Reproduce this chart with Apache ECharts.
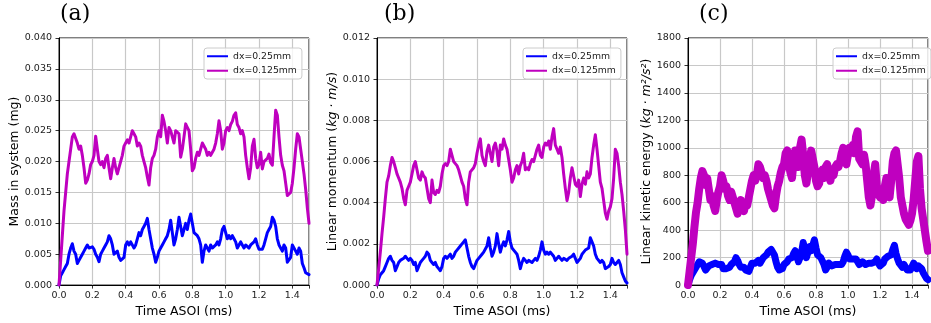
<!DOCTYPE html>
<html>
<head>
<meta charset="utf-8">
<script src="https://cdn.jsdelivr.net/npm/echarts@6/dist/echarts.min.js"></script>
<style>
  html, body { margin: 0; padding: 0; background: #fff; }
  #grafico { width: 931px; height: 323px; }
</style>
</head>
<body>
<div id="grafico"></div>
<script>
// Paso temporal de las muestras leidas (ms)
const pasoTiempo = 0.01;
const tiempos = Array.from({ length: 151 }, (_, i) => +(i * pasoTiempo).toFixed(2));

const nombresSeries = ['dx=0.25mm', 'dx=0.125mm'];
const paneles = ['(a)', '(b)', '(c)'];

// (a) Masa en el sistema (mg)
const masaAzul = [
  0.000, 0.0015, 0.002, 0.0025, 0.003, 0.0035, 0.005, 0.006, 0.0067, 0.0055,
  0.005, 0.0035, 0.004, 0.0045, 0.005, 0.0055, 0.006, 0.0065, 0.006, 0.0058,
  0.0062, 0.0058, 0.005, 0.0045, 0.0038, 0.005, 0.0055, 0.006, 0.0065, 0.007,
  0.008, 0.0075, 0.0065, 0.005, 0.005, 0.0055, 0.0045, 0.004, 0.0038, 0.0045,
  0.0065, 0.007, 0.0065, 0.007, 0.007, 0.006, 0.0065, 0.0075, 0.0085, 0.008,
  0.009, 0.0095, 0.010, 0.0108, 0.009, 0.0075, 0.006, 0.005, 0.0037, 0.0045,
  0.0055, 0.006, 0.0065, 0.007, 0.0075, 0.008, 0.009, 0.0105, 0.0085, 0.0065,
  0.0075, 0.009, 0.011, 0.0095, 0.008, 0.009, 0.010, 0.009, 0.0105, 0.0115,
  0.010, 0.0085, 0.0085, 0.008, 0.0075, 0.0065, 0.0037, 0.0055, 0.0065, 0.006,
  0.0055, 0.0065, 0.006, 0.006, 0.0065, 0.007, 0.0065, 0.0075, 0.009, 0.0095,
  0.0085, 0.0075, 0.008, 0.0075, 0.008, 0.0075, 0.007, 0.006, 0.0065, 0.007,
  0.0065, 0.006, 0.0065, 0.0065, 0.006, 0.0065, 0.0065, 0.007, 0.0075, 0.0065,
  0.0058, 0.0055, 0.0058, 0.0065, 0.0075, 0.0085, 0.009, 0.0095, 0.011, 0.0105,
  0.0095, 0.0075, 0.0065, 0.0065, 0.0055, 0.0065, 0.006, 0.0037, 0.004, 0.0045,
  0.0065, 0.0065, 0.0055, 0.005, 0.006, 0.0055, 0.0035, 0.0028, 0.002, 0.0018,
  0.0017
];
const masaMagenta = [
  0.000, 0.004, 0.008, 0.012, 0.015, 0.018, 0.020, 0.022, 0.024, 0.0245,
  0.0248, 0.023, 0.022, 0.0225, 0.021, 0.019, 0.0165, 0.017, 0.018, 0.0195,
  0.020, 0.021, 0.0241, 0.022, 0.020, 0.0195, 0.020, 0.019, 0.0205, 0.021,
  0.019, 0.0172, 0.019, 0.0205, 0.019, 0.018, 0.019, 0.019, 0.021, 0.0225,
  0.023, 0.0235, 0.023, 0.024, 0.025, 0.0245, 0.024, 0.0225, 0.023, 0.0225,
  0.021, 0.020, 0.019, 0.0175, 0.0162, 0.019, 0.0205, 0.021, 0.022, 0.024,
  0.025, 0.024, 0.0275, 0.0265, 0.025, 0.023, 0.0255, 0.025, 0.024, 0.023,
  0.025, 0.025, 0.0245, 0.0207, 0.022, 0.024, 0.0261, 0.0255, 0.025, 0.022,
  0.0185, 0.019, 0.0205, 0.0215, 0.021, 0.022, 0.023, 0.023, 0.022, 0.021,
  0.0215, 0.021, 0.0215, 0.022, 0.023, 0.0245, 0.0266, 0.025, 0.022, 0.023,
  0.025, 0.0255, 0.025, 0.026, 0.0265, 0.0275, 0.0279, 0.026, 0.0255, 0.0245,
  0.025, 0.024, 0.021, 0.019, 0.0172, 0.019, 0.0225, 0.0236, 0.0205, 0.019,
  0.0195, 0.0215, 0.0188, 0.020, 0.020, 0.0205, 0.0212, 0.0198, 0.0194, 0.024,
  0.0283, 0.0275, 0.024, 0.021, 0.0194, 0.0185, 0.0165, 0.0145, 0.0148, 0.015,
  0.0165, 0.019, 0.022, 0.0245, 0.024, 0.022, 0.020, 0.018, 0.0155, 0.0125,
  0.010
];

// (b) Momento lineal (kg·m/s)
const momentoAzul = [
  0, 0.0003, 0.0005, 0.0006, 0.0007, 0.0009, 0.0011, 0.0013, 0.0014, 0.0012,
  0.0011, 0.0007, 0.0009, 0.0011, 0.0012, 0.0012, 0.0013, 0.0014, 0.0013, 0.0012,
  0.0013, 0.0012, 0.001, 0.0011, 0.0007, 0.0009, 0.0011, 0.0012, 0.0013, 0.0014,
  0.0016, 0.0015, 0.0012, 0.0011, 0.001, 0.0011, 0.0009, 0.0008, 0.0007, 0.0009,
  0.0013, 0.0014, 0.0013, 0.0014, 0.0015, 0.0013, 0.0014, 0.0016, 0.0017, 0.0017,
  0.0019, 0.002, 0.0021, 0.0022, 0.0018, 0.0014, 0.0011, 0.0009, 0.0008, 0.001,
  0.0012, 0.0013, 0.0013, 0.0015, 0.0016, 0.0016, 0.0019, 0.0023, 0.0018, 0.0014,
  0.0016, 0.0019, 0.0025, 0.002, 0.0016, 0.0019, 0.0021, 0.0019, 0.0022, 0.0026,
  0.0021, 0.0018, 0.0017, 0.0016, 0.0015, 0.0012, 0.0008, 0.0011, 0.0013, 0.0012,
  0.0011, 0.0012, 0.0012, 0.0011, 0.0012, 0.0013, 0.0012, 0.0014, 0.0017, 0.0021,
  0.0017, 0.0015, 0.0016, 0.0015, 0.0016, 0.0015, 0.0014, 0.0012, 0.0013, 0.0014,
  0.0013, 0.0012, 0.0013, 0.0013, 0.0012, 0.0013, 0.0013, 0.0014, 0.0015, 0.0013,
  0.0011, 0.0011, 0.0013, 0.0015, 0.0016, 0.0017, 0.0017, 0.0018, 0.0023, 0.0021,
  0.0019, 0.0015, 0.0013, 0.0013, 0.0011, 0.0012, 0.0011, 0.0008, 0.0008, 0.0009,
  0.001, 0.0013, 0.0011, 0.001, 0.0011, 0.0012, 0.001, 0.0006, 0.0004, 0.0002,
  0.0001
];
const momentoMagenta = [
  0, 0.0008, 0.0016, 0.0025, 0.0033, 0.0042, 0.005, 0.0053, 0.0058, 0.0062,
  0.006, 0.0057, 0.0054, 0.0052, 0.005, 0.0047, 0.0042, 0.0039, 0.0046, 0.0048,
  0.005, 0.0054, 0.0058, 0.006, 0.0056, 0.0052, 0.0051, 0.0055, 0.0053, 0.0052,
  0.0047, 0.0042, 0.004, 0.0051, 0.0045, 0.0044, 0.0046, 0.0045, 0.0048, 0.0054,
  0.0058, 0.0059, 0.0058, 0.006, 0.0066, 0.0063, 0.006, 0.0059, 0.0058, 0.0056,
  0.0053, 0.005, 0.0048, 0.0042, 0.0039, 0.005, 0.0055, 0.0055, 0.0057, 0.0059,
  0.0064, 0.0068, 0.0071, 0.0063, 0.006, 0.0058, 0.0065, 0.0068, 0.0064, 0.006,
  0.0067, 0.0069, 0.0065, 0.0058, 0.0068, 0.0066, 0.0071, 0.0068, 0.0066, 0.0061,
  0.0056, 0.005, 0.0052, 0.0056, 0.0058, 0.0054, 0.0058, 0.006, 0.0064, 0.0056,
  0.0057, 0.0056, 0.0059, 0.0061, 0.006, 0.0063, 0.0066, 0.0068, 0.0063, 0.0062,
  0.0067, 0.0069, 0.0068, 0.007, 0.0066, 0.0072, 0.0076, 0.0068, 0.0066, 0.0064,
  0.0067, 0.0062, 0.0054, 0.0047, 0.0041, 0.0045, 0.0052, 0.0057, 0.0053, 0.0049,
  0.0048, 0.0051, 0.0043, 0.0049, 0.0052, 0.0049, 0.0055, 0.0052, 0.0054, 0.0062,
  0.0068, 0.0073, 0.0066, 0.0058, 0.005, 0.0047, 0.0041, 0.0035, 0.0032, 0.0036,
  0.0038, 0.0042, 0.0052, 0.0066, 0.0064, 0.0058, 0.005, 0.0044, 0.0036, 0.0027,
  0.0015
];

// (c) Energia cinetica lineal (kg·m²/s²)
const energiaAzul = [
  0, 40, 70, 90, 110, 130, 150, 170, 170, 160,
  150, 110, 120, 140, 150, 150, 160, 160, 170, 150,
  160, 150, 120, 130, 120, 110, 130, 150, 160, 170,
  200, 180, 150, 130, 120, 130, 110, 100, 100, 110,
  160, 170, 160, 170, 180, 160, 170, 200, 210, 220,
  240, 250, 260, 270, 220, 170, 130, 110, 100, 120,
  150, 160, 170, 190, 200, 200, 230, 250, 220, 170,
  200, 240, 310, 260, 200, 240, 280, 250, 290, 330,
  270, 220, 210, 200, 190, 150, 110, 130, 160, 150,
  140, 150, 150, 140, 150, 160, 150, 170, 210, 240,
  220, 190, 200, 190, 200, 190, 180, 150, 160, 170,
  160, 150, 160, 160, 150, 160, 160, 170, 190, 160,
  140, 140, 160, 190, 200, 210, 210, 220, 260, 290,
  230, 190, 160, 160, 130, 150, 140, 110, 100, 110,
  120, 160, 140, 120, 140, 150, 120, 90, 70, 50,
  40
];
const energiaMagenta = [
  0, 100, 200, 300, 420, 530, 600, 700, 780, 830,
  800, 730, 780, 700, 620, 650, 580, 540, 620, 680,
  720, 800, 760, 700, 720, 650, 620, 680, 640, 600,
  560, 520, 580, 620, 560, 540, 600, 580, 640, 700,
  760, 800, 760, 800, 880, 860, 820, 780, 800, 760,
  700, 660, 620, 580, 560, 650, 720, 760, 820, 860,
  880, 960, 980, 880, 820, 780, 900, 980, 950, 860,
  1000, 1060, 950, 800, 740, 820, 920, 980, 920, 860,
  760, 720, 740, 820, 840, 780, 860, 880, 800, 760,
  820, 800, 860, 880, 860, 900, 960, 1000, 900, 880,
  950, 1000, 980, 1020, 960, 1080, 1120, 920, 900, 880,
  950, 880, 760, 640, 580, 650, 800, 880, 720, 660,
  640, 700, 620, 720, 780, 660, 640, 760, 900, 960,
  980, 880, 780, 640, 580, 520, 480, 460, 440, 470,
  520, 620, 760, 900, 940, 700, 560, 480, 400, 320,
  250
];

const fuente = 'DejaVu Sans';
const colorAzul = '#0000ff';
const colorMagenta = '#bf00bf';

// Posicion de cada panel (px)
const izquierdas = [59, 377, 688];
const leyendasIzq = [204, 523, 833];

function ejeX(indice) {
  return {
    type: 'value', gridIndex: indice, min: 0, max: 1.5, interval: 0.2,
    name: 'Time ASOI (ms)', nameLocation: 'middle', nameGap: 17,
    nameTextStyle: { fontFamily: fuente, fontSize: 12.5, color: '#000' },
    axisLine: { show: true, onZero: false, lineStyle: { color: '#000', width: 1 } },
    axisTick: { show: true, length: 3.5, lineStyle: { color: '#000', width: 0.8 } },
    axisLabel: {
      fontFamily: fuente, fontSize: 9.5, color: '#222', margin: 5,
      formatter: v => (v > 1.45 ? '' : v.toFixed(1))
    },
    splitLine: { show: true, lineStyle: { color: '#c8c8c8', width: 1.2 } }
  };
}

function ejeY(indice, max, intervalo, decimales, nombre, rico) {
  return {
    type: 'value', gridIndex: indice, min: 0, max: max, interval: intervalo,
    name: nombre, nameLocation: 'middle', nameGap: indice === 2 ? 35 : 38,
    nameTextStyle: { fontFamily: fuente, fontSize: 12.5, color: '#000', rich: rico },
    axisLine: { show: true, onZero: false, lineStyle: { color: '#000', width: 1 } },
    axisTick: { show: true, length: 3.5, lineStyle: { color: '#000', width: 0.8 } },
    axisLabel: {
      fontFamily: fuente, fontSize: 9.5, color: '#222', margin: 7,
      formatter: v => v.toFixed(decimales)
    },
    splitLine: { show: true, lineStyle: { color: '#c8c8c8', width: 1.2 } }
  };
}

const estiloItalica = { i: { fontFamily: fuente, fontSize: 12.5, fontStyle: 'italic', color: '#000' } };

function serie(indice, nombre, valores, color, grosor) {
  return {
    name: nombre, type: 'line', xAxisIndex: indice, yAxisIndex: indice,
    symbol: 'none', showSymbol: false, animation: false,
    lineStyle: { color: color, width: grosor, join: 'round', cap: 'round' },
    itemStyle: { color: color },
    data: tiempos.map((t, i) => [t, valores[i]])
  };
}

const grafico = echarts.init(document.getElementById('grafico'));

const opciones = {
  backgroundColor: '#fff',
  animation: false,
  title: paneles.map((texto, i) => ({
    text: texto, left: izquierdas[i] + [1, 7, 11][i], top: 3, padding: 0,
    textStyle: { fontFamily: 'DejaVu Serif', fontSize: 22, fontWeight: 'normal', color: '#000' }
  })),
  grid: izquierdas.map(izq => ({
    left: izq, top: 38, width: 250, height: 249,
    show: true, borderColor: '#000', borderWidth: 1, backgroundColor: 'transparent'
  })),
  legend: leyendasIzq.map(izq => ({
    data: nombresSeries, left: izq, top: 48, orient: 'vertical',
    icon: 'rect', itemWidth: 21, itemHeight: 2, itemGap: 4,
    padding: [3, 5, 3, 3],
    borderColor: '#cccccc', borderWidth: 1, borderRadius: 3,
    backgroundColor: 'rgba(255,255,255,0.8)',
    textStyle: { fontFamily: fuente, fontSize: 9.3, color: '#222', lineHeight: 10.5 },
    selectedMode: false, z: 10
  })),
  xAxis: [ejeX(0), ejeX(1), ejeX(2)],
  yAxis: [
    ejeY(0, 0.04, 0.005, 3, 'Mass in system (mg)'),
    ejeY(1, 0.012, 0.002, 3, 'Linear momentum ({i|kg · m/s})', estiloItalica),
    ejeY(2, 1800, 200, 0, 'Linear kinetic energy ({i|kg · m²/s²})', estiloItalica)
  ],
  series: [
    serie(0, nombresSeries[0], masaAzul, colorAzul, 3),
    serie(0, nombresSeries[1], masaMagenta, colorMagenta, 3),
    serie(1, nombresSeries[0], momentoAzul, colorAzul, 3),
    serie(1, nombresSeries[1], momentoMagenta, colorMagenta, 3),
    serie(2, nombresSeries[0], energiaAzul, colorAzul, 7),
    serie(2, nombresSeries[1], energiaMagenta, colorMagenta, 8)
  ]
};

grafico.setOption(opciones);
</script>
</body>
</html>
